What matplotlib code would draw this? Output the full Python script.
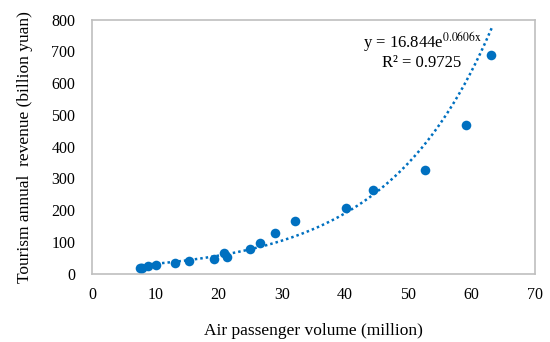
import numpy as np
from matplotlib import pyplot as plt

plt.rcParams['font.family'] = ['Liberation Serif', 'DejaVu Serif']
plt.rcParams['mathtext.fontset'] = 'stix'

# air passenger volume (million) and tourism revenue (billion yuan)
passengers = [7.6, 7.9, 8.9, 10.1, 13.1, 15.4, 19.2, 20.9, 21.3, 25.0,
              26.5, 28.9, 32.1, 40.1, 44.4, 52.6, 59.1, 63.0]
revenue = [17, 18, 23, 27, 32, 40, 46, 64, 51, 78,
           97, 127, 167, 208, 262, 325, 469, 690]
fit_a = 16.844
fit_b = 0.0606
x_ticks = [0, 10, 20, 30, 40, 50, 60, 70]
y_ticks = [0, 100, 200, 300, 400, 500, 600, 700, 800]

blue = '#0070C0'
fig = plt.figure(figsize=(5.5, 3.42), dpi=100)
ax = fig.add_axes([0.1673, 0.2, 0.8055, 0.7427])

ax.scatter(passengers, revenue, s=48, color=blue, zorder=3, linewidths=0)
xf = np.linspace(min(passengers), max(passengers) + 0.3, 200)
ax.plot(xf, fit_a * np.exp(fit_b * xf), color=blue, linestyle=(0, (1, 1.2)), linewidth=1.8)

ax.set_xlim(0, 70)
ax.set_ylim(0, 800)
ax.set_xticks(x_ticks)
ax.set_yticks(y_ticks)
ax.tick_params(length=0, labelsize=11.5)
ax.tick_params(axis='y', pad=12)
ax.tick_params(axis='x', pad=10)
for s in ax.spines.values():
    s.set_color('#BFBFBF')
    s.set_linewidth(1.2)

ax.set_xlabel('Air passenger volume (million)', fontsize=12.5, labelpad=14)
ax.set_ylabel('Tourism annual  revenue (billion yuan)', fontsize=12.5, labelpad=13)

eq = r'y = 16.844e$^{\mathrm{0.0606x}}$' + '\n' + 'R² = 0.9725'
ax.text(0.745, 0.815, eq, transform=ax.transAxes, ha='center', va='baseline',
        multialignment='center', linespacing=1.05, fontsize=12)

fig.savefig('out.png', dpi=100)
